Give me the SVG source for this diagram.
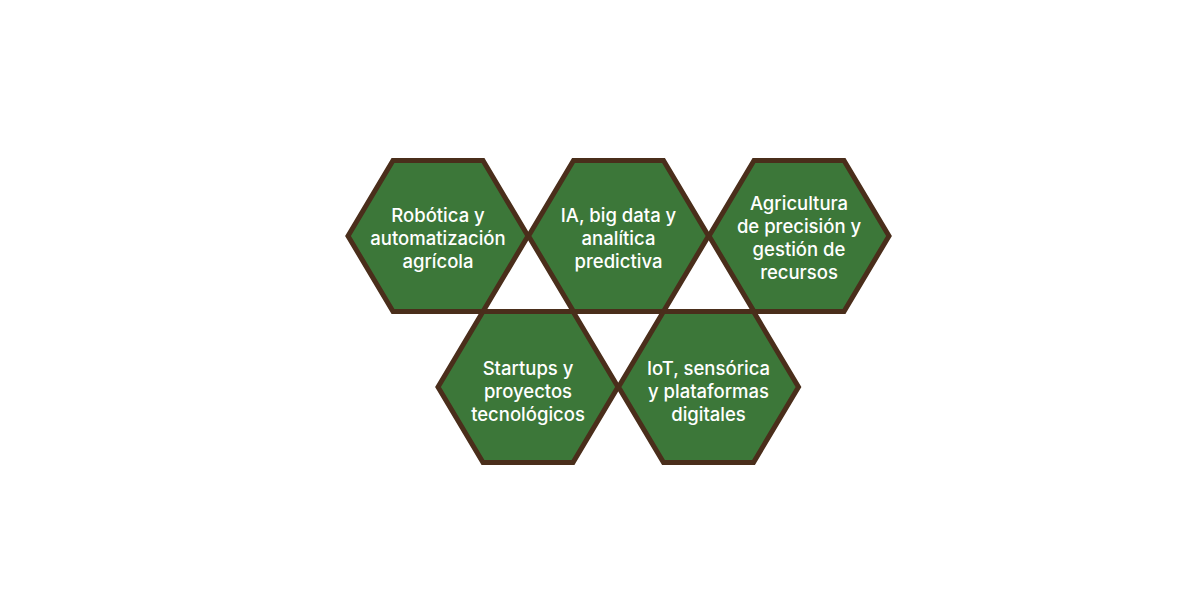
<svg xmlns="http://www.w3.org/2000/svg" width="1200" height="600" viewBox="0 0 1200 600">
  <defs>
    <style>
      .hex { fill: #3c7739; stroke: #4a2e1b; stroke-width: 5; stroke-linejoin: miter; }
      .lbl { fill: #ffffff; font-family: "Inter", "Noto Sans", "Liberation Sans", sans-serif; font-size: 18.5px; font-weight: 500; text-anchor: middle; }
    </style>
    <polygon id="hexshape" points="-90,0 -45,-75.5 45,-75.5 90,0 45,75.5 -45,75.5"/>
  </defs>
  <rect width="1200" height="600" fill="#ffffff"/>
  <g id="connectors"></g>
  <g id="node-robotica" transform="translate(438,236)">
    <use href="#hexshape" class="hex"/>
    <text class="lbl"><tspan x="0" y="-14">Robótica y</tspan><tspan x="0" y="9">automatización</tspan><tspan x="0" y="32">agrícola</tspan></text>
  </g>
  <g id="node-ia" transform="translate(618.5,236)">
    <use href="#hexshape" class="hex"/>
    <text class="lbl"><tspan x="0" y="-14">IA, big data y</tspan><tspan x="0" y="9">analítica</tspan><tspan x="0" y="32">predictiva</tspan></text>
  </g>
  <g id="node-agricultura" transform="translate(799,236)">
    <use href="#hexshape" class="hex"/>
    <text class="lbl"><tspan x="0" y="-26">Agricultura</tspan><tspan x="0" y="-3">de precisión y</tspan><tspan x="0" y="20">gestión de</tspan><tspan x="0" y="43">recursos</tspan></text>
  </g>
  <g id="node-startups" transform="translate(528,387)">
    <use href="#hexshape" class="hex"/>
    <text class="lbl"><tspan x="0" y="-12">Startups y</tspan><tspan x="0" y="11">proyectos</tspan><tspan x="0" y="34">tecnológicos</tspan></text>
  </g>
  <g id="node-iot" transform="translate(708.5,387)">
    <use href="#hexshape" class="hex"/>
    <text class="lbl"><tspan x="0" y="-12">IoT, sensórica</tspan><tspan x="0" y="11">y plataformas</tspan><tspan x="0" y="34">digitales</tspan></text>
  </g>
</svg>
